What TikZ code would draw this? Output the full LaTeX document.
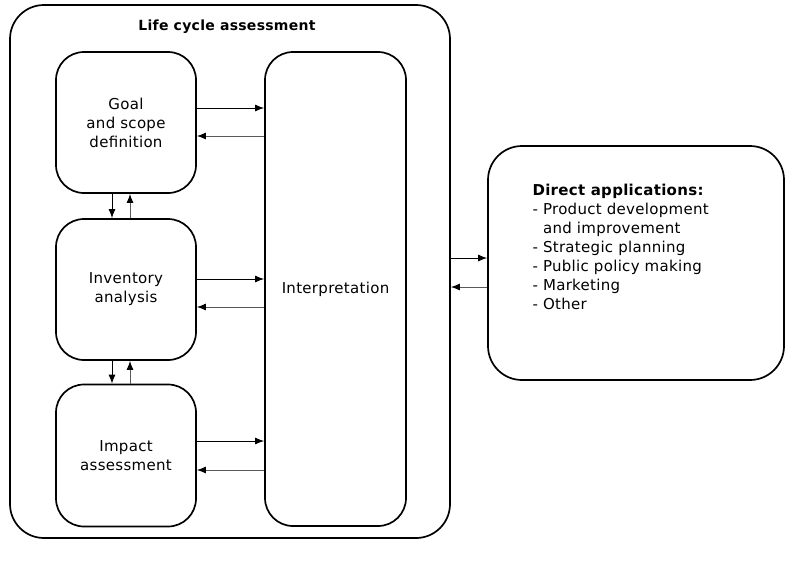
\documentclass[tikz,border=0pt]{standalone}
\usepackage{fontspec}
\setmainfont{DejaVu Sans}[LetterSpace=2]
\usetikzlibrary{arrows.meta}
\begin{document}
\begin{tikzpicture}[x=1pt,y=-1pt,
  box/.style={draw=black,line width=1.7pt,rounded corners=28pt,inner sep=0pt},
  lbl/.style={font=\fontsize{15}{19}\selectfont,align=center},
  arr/.style={line width=1pt,-{Latex[length=9pt,width=7pt]}},
  ret/.style={arr,draw=black!65,-{Latex[length=9pt,width=7pt,fill=black,color=black]}}]
\useasboundingbox (0,0) rectangle (786,571);
\node[box,rounded corners=34pt,minimum width=440pt,minimum height=533pt] (outer) at (230,271.5) {};
\node[font=\bfseries\fontsize{14}{17}\selectfont] (title) at (227,27) {Life cycle assessment};
\node[box,minimum width=140pt,minimum height=141pt,lbl] (goal) at (126,122.5) {Goal\\and scope\\definition};
\node[box,minimum width=140pt,minimum height=141pt,lbl] (inv) at (126,289.5) {Inventory\\analysis};
\node[box,minimum width=140pt,minimum height=142pt,lbl] (imp) at (126,455.5) {Impact\\assessment};
\node[box,minimum width=141pt,minimum height=474pt,lbl] (interp) at (335.5,289) {Interpretation};
\node[box,rounded corners=34pt,minimum width=296pt,minimum height=234pt] (direct) at (636,263) {};
\node[lbl,align=left,anchor=north west] (dtext) at (529,181) {\textbf{Direct applications:}\\- Product development\\\hphantom{- }and improvement\\- Strategic planning\\- Public policy making\\- Marketing\\- Other};
\coordinate (a1) at (0,108);
\coordinate (b1) at (0,136);
\coordinate (a2) at (0,279);
\coordinate (b2) at (0,307);
\coordinate (a3) at (0,441);
\coordinate (b3) at (0,470);
\coordinate (a4) at (0,258);
\coordinate (b4) at (0,287);
\coordinate (xd) at (112,0);
\coordinate (xu) at (130,0);
\draw[arr] (goal.east |- a1) -- (interp.west |- a1);
\draw[ret] (interp.west |- b1) -- (goal.east |- b1);
\draw[arr] (inv.east |- a2) -- (interp.west |- a2);
\draw[ret] (interp.west |- b2) -- (inv.east |- b2);
\draw[arr] (imp.east |- a3) -- (interp.west |- a3);
\draw[ret] (interp.west |- b3) -- (imp.east |- b3);
\draw[arr] (xd |- goal.south) -- (xd |- inv.north);
\draw[ret] (xu |- inv.north) -- (xu |- goal.south);
\draw[arr] (xd |- inv.south) -- (xd |- imp.north);
\draw[ret] (xu |- imp.north) -- (xu |- inv.south);
\draw[arr] (outer.east |- a4) -- (direct.west |- a4);
\draw[ret] (direct.west |- b4) -- (outer.east |- b4);
\end{tikzpicture}
\end{document}
